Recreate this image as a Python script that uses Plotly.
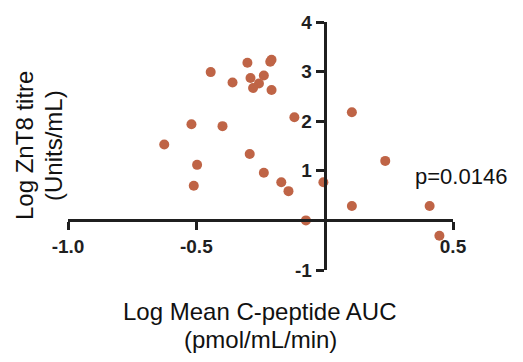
import plotly.graph_objects as go

# Log mean C-peptide AUC (pmol/mL/min) vs log ZnT8 titre (Units/mL)
log_cpeptide_auc = [
    -0.444, -0.301, -0.207, -0.212, -0.289, -0.237, -0.359, -0.256, -0.279,
    -0.207, -0.118, -0.519, -0.398, -0.625, -0.497, -0.510, -0.292, -0.237,
    -0.169, -0.141, -0.005, -0.073, 0.106, 0.236, 0.106, 0.409, 0.447,
]
log_znt8_titre = [
    2.99, 3.18, 3.24, 3.20, 2.87, 2.92, 2.78, 2.76, 2.67,
    2.63, 2.08, 1.94, 1.90, 1.53, 1.12, 0.70, 1.34, 0.96,
    0.77, 0.59, 0.77, 0.00, 2.18, 1.20, 0.29, 0.29, -0.31,
]

x_ticks = [-1.0, -0.5, 0.5]
x_tick_labels = ["-1.0", "-0.5", "0.5"]
y_ticks = [-1, 1, 2, 3, 4]
y_tick_labels = ["-1", "1", "2", "3", "4"]

x_range = [-1.0, 0.5]
y_range = [-1.0, 4.0]

x_title_lines = ["Log Mean C-peptide AUC", "(pmol/mL/min)"]
y_title_lines = ["Log ZnT8 titre", "(Units/mL)"]
p_value_text = "p=0.0146"

point_color = "#BF6446"
axis_color = "#1f1f1f"
font_family = "Liberation Sans, Arial, sans-serif"

fig = go.Figure(
    go.Scatter(
        x=log_cpeptide_auc,
        y=log_znt8_titre,
        mode="markers",
        marker=dict(size=10, color=point_color, line=dict(width=0)),
        cliponaxis=False,
        hoverinfo="x+y",
    )
)

# Axes cross at the origin: place each axis line at the other axis' zero
x_cross = (0 - y_range[0]) / (y_range[1] - y_range[0])
y_cross = (0 - x_range[0]) / (x_range[1] - x_range[0])

tick_font = dict(family=font_family, size=19, color=axis_color, weight="bold")

common_axis = dict(
    anchor="free",
    showgrid=False,
    zeroline=False,
    showline=True,
    linewidth=3,
    linecolor=axis_color,
    ticks="outside",
    ticklen=8,
    tickwidth=3,
    tickcolor=axis_color,
    tickfont=tick_font,
)

fig.update_xaxes(range=x_range, position=x_cross,
                 tickvals=x_ticks, ticktext=x_tick_labels, **common_axis)
fig.update_yaxes(range=y_range, position=y_cross,
                 tickvals=y_ticks, ticktext=y_tick_labels, **common_axis)

title_font = dict(family=font_family, size=24, color="#111111")

annotations = []
# x-axis title, one annotation per line
for line, ypos in zip(x_title_lines, [-0.168, -0.281]):
    annotations.append(dict(
        text=line, xref="paper", yref="paper", x=0.499, y=ypos,
        xanchor="center", yanchor="middle", showarrow=False, font=title_font,
    ))
# y-axis title, rotated, one annotation per line
for line, xpos in zip(y_title_lines, [-0.1143, -0.039]):
    annotations.append(dict(
        text=line, xref="paper", yref="paper", x=xpos, y=0.504,
        xanchor="center", yanchor="middle", textangle=-90,
        showarrow=False, font=title_font,
    ))
annotations.append(dict(
    text=p_value_text, xref="paper", yref="paper", x=1.0208, y=0.379,
    xanchor="center", yanchor="middle", showarrow=False,
    font=dict(family=font_family, size=22, color="#111111"),
))

fig.update_layout(
    width=523,
    height=362,
    margin=dict(l=68, r=70, t=14, b=92),
    paper_bgcolor="white",
    plot_bgcolor="white",
    showlegend=False,
    annotations=annotations,
)

fig.write_html("out.html")
